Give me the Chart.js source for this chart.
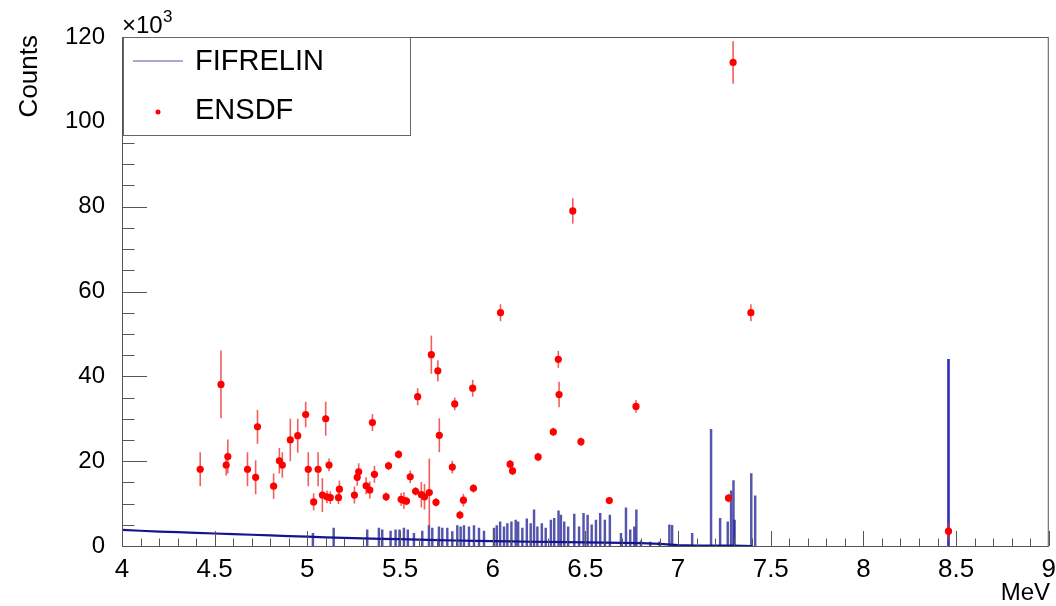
<!DOCTYPE html>
<html>
<head>
<meta charset="utf-8">
<script src="https://cdn.jsdelivr.net/npm/chart.js@4.4.1/dist/chart.umd.min.js"></script>
<style>
  html, body { margin: 0; padding: 0; background: #fff; }
  #wrap { width: 1056px; height: 606px; }
</style>
</head>
<body>
<div id="wrap"><canvas id="spectrum" width="1056" height="606"></canvas></div>
<script>
// ENSDF gamma lines : energy (MeV), counts (x10^3), error (x10^3)
const ensdfEnergy = [4.422, 4.534, 4.562, 4.571, 4.677, 4.721, 4.731, 4.818, 4.849, 4.865,
  4.908, 4.948, 4.991, 5.005, 5.034, 5.058, 5.081, 5.099, 5.106, 5.117,
  5.124, 5.168, 5.173, 5.254, 5.269, 5.277, 5.317, 5.337, 5.351, 5.362,
  5.425, 5.438, 5.492, 5.506, 5.521, 5.535, 5.555, 5.584, 5.595, 5.615,
  5.632, 5.658, 5.669, 5.694, 5.704, 5.712, 5.782, 5.795, 5.823, 5.842,
  5.892, 5.896, 6.042, 6.094, 6.107, 6.245, 6.327, 6.354, 6.358, 6.432,
  6.476, 6.629, 6.773, 7.272, 7.297, 7.393, 8.459];
const ensdfCounts = [18.1, 38.1, 19.1, 21.1, 18.1, 16.2, 28.1, 14.1, 20.1, 19.1,
  25.0, 26.0, 31.0, 18.1, 10.4, 18.1, 12.0, 30.0, 11.6, 19.1,
  11.4, 11.4, 13.4, 12.0, 16.2, 17.5, 14.2, 13.2, 29.1, 16.9,
  11.6, 18.9, 21.6, 11.0, 10.7, 10.6, 16.3, 12.9, 35.2, 12.1,
  11.6, 12.6, 45.1, 10.3, 41.3, 26.1, 18.6, 33.5, 7.3, 10.8,
  37.2, 13.6, 55.0, 19.3, 17.7, 21.0, 26.9, 44.0, 35.7, 79.0,
  24.6, 10.7, 32.9, 11.3, 114.0, 55.0, 3.5];
const ensdfError = [4, 8, 2.5, 4, 4, 4, 4, 3, 3, 3,
  5, 4, 3, 4, 2, 4, 4, 4, 1.5, 1.5,
  1.5, 1.5, 2, 2, 2, 2, 2, 2, 2, 2,
  1, 1, 1, 1.5, 2, 1, 1.5, 1, 2, 3,
  3, 8, 4.5, 1, 2.5, 4, 1.5, 1.5, 1, 1.5,
  2, 1, 2, 1, 1, 1, 1, 2, 3, 3,
  1, 0.8, 1.5, 1, 5, 2, 2];

// FIFRELIN continuum, read every 0.1 MeV (x10^3)
const fifEnergy = [4.0, 4.1, 4.2, 4.3, 4.4, 4.5, 4.6, 4.7, 4.8, 4.9,
  5.0, 5.1, 5.2, 5.3, 5.4, 5.5, 5.6, 5.7, 5.8, 5.9,
  6.0, 6.1, 6.2, 6.3, 6.4, 6.5, 6.6, 6.7, 6.8, 6.9,
  7.0, 7.1, 7.2, 7.3, 7.4];
const fifCounts = [3.8, 3.6, 3.4, 3.25, 3.1, 2.95, 2.8, 2.65, 2.5, 2.35,
  2.2, 2.05, 1.9, 1.8, 1.7, 1.6, 1.5, 1.4, 1.3, 1.2,
  1.15, 1.1, 1.0, 0.95, 0.9, 0.85, 0.8, 0.75, 0.7, 0.5,
  0.2, 0.1, 0.1, 0.1, 0.0];

// FIFRELIN discrete lines (MeV, x10^3)
const lineEnergy = [5.03, 5.142, 5.323, 5.386, 5.404, 5.449, 5.476, 5.497, 5.521, 5.542,
  5.575, 5.620, 5.656, 5.674, 5.710, 5.728, 5.755, 5.782, 5.809, 5.827,
  5.845, 5.872, 5.899, 5.926, 5.953, 6.007, 6.022, 6.040, 6.061, 6.079,
  6.101, 6.124, 6.137, 6.160, 6.184, 6.205, 6.223, 6.241, 6.265, 6.286,
  6.314, 6.332, 6.355, 6.368, 6.386, 6.407, 6.440, 6.466, 6.490, 6.512,
  6.534, 6.557, 6.580, 6.605, 6.632, 6.692, 6.719, 6.742, 6.764, 6.775,
  6.80, 6.85, 6.90, 6.953, 6.968, 7.076, 7.178, 7.227, 7.268, 7.286,
  7.299, 7.305, 7.395, 7.416];
const lineCounts = [3.0, 4.2, 3.8, 4.2, 3.8, 3.5, 3.8, 3.8, 4.2, 3.8,
  3.0, 3.5, 4.8, 4.2, 4.5, 4.2, 4.2, 3.4, 4.8, 4.5,
  4.8, 4.5, 4.8, 4.2, 3.5, 4.2, 4.8, 5.7, 4.5, 5.3,
  5.7, 6.1, 5.7, 4.2, 6.4, 5.3, 8.5, 4.5, 5.3, 4.2,
  6.1, 6.5, 8.3, 7.3, 5.7, 4.5, 7.5, 4.5, 7.7, 7.3,
  5.0, 6.1, 7.7, 6.1, 7.3, 3.0, 9.0, 3.8, 4.5, 8.5,
  1.2, 0.9, 1.0, 5.0, 4.9, 3.0, 27.5, 6.5, 5.7, 13.0,
  15.4, 6.1, 17.1, 11.8];

// strongest FIFRELIN line
const peakEnergy = [8.459];
const peakCounts = [44.0];

const xTickLabels = ["4", "4.5", "5", "5.5", "6", "6.5", "7", "7.5", "8", "8.5", "9"];
const yTickLabels = ["0", "20", "40", "60", "80", "100", "120"];

const FONT = "'Liberation Sans', Arial, Helvetica, sans-serif";

function toPoints(xs, ys) {
    return xs.map((x, i) => ({ x: x, y: ys[i] }));
}

// barres d'erreur ENSDF, dessinées juste avant les points
const errorBars = {
    id: "errorBars",
    beforeDatasetDraw(chart, args) {
        if (args.index !== 0) return;
        const { ctx, scales: { x, y } } = chart;
        ctx.save();
        ctx.strokeStyle = "rgba(235, 40, 40, 0.75)";
        ctx.lineWidth = 1.6;
        ensdfEnergy.forEach((e, i) => {
            const px = x.getPixelForValue(e);
            ctx.beginPath();
            ctx.moveTo(px, y.getPixelForValue(ensdfCounts[i] - ensdfError[i]));
            ctx.lineTo(px, y.getPixelForValue(ensdfCounts[i] + ensdfError[i]));
            ctx.stroke();
        });
        ctx.restore();
    }
};

// cadre, graduations internes (style ROOT), titres et légende
const rootFrame = {
    id: "rootFrame",
    afterDraw(chart) {
        const { ctx, chartArea: a, scales: { x, y } } = chart;
        ctx.save();
        ctx.strokeStyle = "#555";
        ctx.lineWidth = 1;

        // x ticks : major every 0.5 MeV, minor every 0.1 MeV
        for (let i = 0; i <= 50; i++) {
            const px = Math.round(x.getPixelForValue(4 + i * 0.1)) + 0.5;
            const len = i % 5 === 0 ? 15 : 7.5;
            ctx.beginPath();
            ctx.moveTo(px, a.bottom);
            ctx.lineTo(px, a.bottom - len);
            ctx.stroke();
        }
        // y ticks : major every 20k, minor every 5k
        for (let i = 0; i <= 24; i++) {
            const py = Math.round(y.getPixelForValue(i * 5)) + 0.5;
            const len = i % 4 === 0 ? 25 : 12.5;
            ctx.beginPath();
            ctx.moveTo(a.left, py);
            ctx.lineTo(a.left + len, py);
            ctx.stroke();
        }
        ctx.strokeRect(a.left + 0.5, a.top + 0.5, a.right - a.left - 1, a.bottom - a.top);

        // axis titles
        ctx.fillStyle = "#000";
        ctx.font = "24px " + FONT;
        ctx.textAlign = "right";
        ctx.textBaseline = "middle";
        ctx.fillText("MeV", 1050, 593);

        ctx.save();
        ctx.translate(30, 35);
        ctx.rotate(-Math.PI / 2);
        ctx.font = "26px " + FONT;
        ctx.textAlign = "right";
        ctx.fillText("Counts", 0, 0);
        ctx.restore();

        ctx.textAlign = "left";
        ctx.textBaseline = "alphabetic";
        ctx.font = "24px " + FONT;
        ctx.fillText("\u00d710", 122, 33);
        ctx.font = "17px " + FONT;
        ctx.fillText("3", 163, 22);

        // legend
        const bx = 123, by = 37, bw = 287, bh = 98;
        ctx.fillStyle = "#fff";
        ctx.fillRect(bx, by, bw, bh);
        ctx.strokeStyle = "#666";
        ctx.strokeRect(bx + 0.5, by + 0.5, bw, bh);

        ctx.strokeStyle = "#8c8cc8";
        ctx.lineWidth = 1.5;
        ctx.beginPath();
        ctx.moveTo(133, 61);
        ctx.lineTo(183, 61);
        ctx.stroke();

        ctx.fillStyle = "#f00";
        ctx.beginPath();
        ctx.arc(158, 112, 2.5, 0, Math.PI * 2);
        ctx.fill();

        ctx.fillStyle = "#000";
        ctx.font = "29px " + FONT;
        ctx.textBaseline = "middle";
        ctx.fillText(chart.data.datasets[1].label, 195, 62);
        ctx.fillText(chart.data.datasets[0].label, 195, 111);
        ctx.restore();
    }
};

const ctx = document.getElementById("spectrum").getContext("2d");

new Chart(ctx, {
    type: "bar",
    data: {
        datasets: [
            {
                type: "scatter",
                label: "ENSDF",
                data: toPoints(ensdfEnergy, ensdfCounts),
                backgroundColor: "#f00",
                borderColor: "#f00",
                pointRadius: 3.6,
                pointBorderWidth: 0,
                order: 0
            },
            {
                type: "line",
                label: "FIFRELIN",
                data: toPoints(fifEnergy, fifCounts),
                borderColor: "#14148c",
                borderWidth: 2.2,
                pointRadius: 0,
                tension: 0,
                fill: false,
                order: 1
            },
            {
                type: "bar",
                label: "FIFRELIN lines",
                data: toPoints(lineEnergy, lineCounts),
                backgroundColor: "rgba(20, 20, 140, 0.72)",
                barThickness: 1.8,
                grouped: false,
                order: 2
            },
            {
                type: "bar",
                label: "FIFRELIN peak",
                data: toPoints(peakEnergy, peakCounts),
                backgroundColor: "#3030b8",
                barThickness: 2,
                grouped: false,
                order: 2
            }
        ]
    },
    options: {
        responsive: false,
        animation: false,
        layout: { padding: { left: 0, top: 37, right: 4, bottom: 0 } },
        plugins: {
            legend: { display: false },
            tooltip: { enabled: false }
        },
        scales: {
            x: {
                type: "linear",
                min: 4,
                max: 9,
                offset: false,
                grid: { display: false },
                border: { display: false },
                afterBuildTicks: (scale) => {
                    scale.ticks = xTickLabels.map(l => ({ value: parseFloat(l) }));
                },
                afterFit: (scale) => { scale.height = 60; },
                ticks: {
                    callback: (v, i) => xTickLabels[i],
                    maxRotation: 0,
                    autoSkip: false,
                    padding: 0,
                    color: "#000",
                    font: { family: FONT, size: 26 }
                }
            },
            y: {
                min: 0,
                max: 120,
                grid: { display: false },
                border: { display: false },
                afterBuildTicks: (scale) => {
                    scale.ticks = yTickLabels.map(l => ({ value: parseFloat(l) }));
                },
                afterFit: (scale) => { scale.width = 122; },
                ticks: {
                    callback: (v, i) => yTickLabels[i],
                    padding: 9,
                    color: "#000",
                    font: { family: FONT, size: 24 }
                }
            }
        }
    },
    plugins: [errorBars, rootFrame]
});
</script>
</body>
</html>
